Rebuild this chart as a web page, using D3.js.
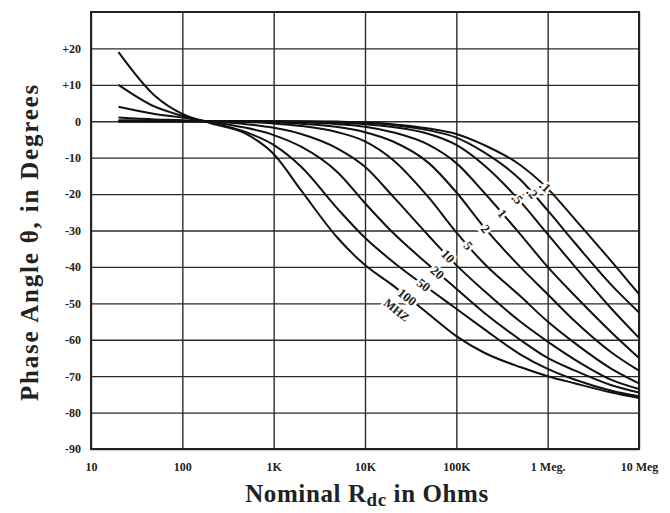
<!DOCTYPE html>
<html>
<head>
<meta charset="utf-8">
<script src="https://cdn.jsdelivr.net/npm/d3@7"></script>
<style>
  body { margin: 0; background: #fff; }
  svg { display: block; }
  .tick text { font-family: "Liberation Serif", serif; font-weight: bold; font-size: 12px; fill: #222; }
  .title { font-family: "Liberation Serif", serif; font-weight: bold; fill: #222; }
</style>
</head>
<body>
<div id="chart"></div>
<script>
// nominal resistance (ohms) where each curve is read
var resistances = [20, 50, 100, 200, 500, 1e3, 2e3, 5e3, 1e4, 2e4, 5e4, 1e5, 2e5, 5e5, 1e6, 2e6, 5e6, 1e7];

// phase angle (degrees) for each frequency
var phase_0_1MHz = [0, 0, 0, 0, 0, 0, 0, -0.1, -0.3, -0.8, -2, -3.5, -6.5, -12, -18.5, -27, -38.5, -47.5];
var phase_0_2MHz = [0, 0, 0, 0, 0, 0, -0.1, -0.3, -0.5, -1, -2.5, -4.5, -8.5, -16, -24.5, -33.5, -45, -52.5];
var phase_0_5MHz = [0, 0, 0, 0, 0, -0.1, -0.2, -0.4, -0.8, -1.6, -3.5, -6.5, -12, -22, -31, -40, -51.5, -59.5];
var phase_1MHz   = [0, 0, 0, 0, 0, -0.1, -0.3, -0.8, -1.5, -3, -6.5, -11.5, -19.5, -31, -40, -48, -58, -65];
var phase_2MHz   = [0, 0, 0, 0, -0.1, -0.3, -0.7, -1.6, -3, -5.5, -11.5, -19.5, -29, -40, -47.5, -55, -63.5, -68.5];
var phase_5MHz   = [0.3, 0.2, 0.1, 0, -0.2, -0.6, -1.3, -3, -5.5, -10.5, -21, -30.5, -39, -48, -55, -61, -68, -72];
var phase_10MHz  = [1, 0.5, 0.3, -0.1, -0.8, -1.8, -3.5, -7.5, -12.5, -20.5, -31.5, -39.5, -46.5, -55, -60.5, -65.5, -71, -73.5];
var phase_20MHz  = [4, 2, 1, -0.2, -1.8, -3.8, -7, -14, -22.5, -30.5, -39.5, -46, -52.5, -60, -65, -68.5, -72.5, -74.5];
var phase_50MHz  = [10, 4, 1.5, -0.3, -3, -6.5, -12.5, -24, -32, -38.5, -46, -51.5, -57, -64, -68, -71, -74, -75.5];
var phase_100MHz = [19, 7, 2, -0.5, -3.5, -9, -19, -32, -39.5, -45, -53, -59, -63.5, -67.5, -70, -72, -74.5, -76];

var curveLabels = [".1", ".2", ".5", "1", "2", "5", "10", "20", "50", "100"];
// resistance where each curve carries its label
var labelR = [940e3, 676e3, 466e3, 318e3, 209e3, 135e3, 81e3, 62e3, 44e3, 29e3];

var xTicks = [10, 100, 1e3, 1e4, 1e5, 1e6, 1e7];
var xTickLabels = ["10", "100", "1K", "10K", "100K", "1 Meg.", "10 Meg"];
var yTicks = [20, 10, 0, -10, -20, -30, -40, -50, -60, -70, -80, -90];
var yTickLabels = ["+20", "+10", "0", "-10", "-20", "-30", "-40", "-50", "-60", "-70", "-80", "-90"];

var series = [phase_0_1MHz, phase_0_2MHz, phase_0_5MHz, phase_1MHz, phase_2MHz,
              phase_5MHz, phase_10MHz, phase_20MHz, phase_50MHz, phase_100MHz];

var W = 670, H = 513;
var plotL = 91, plotR = 639, plotT = 12, plotB = 449;

var x = d3.scaleLog().domain([10, 1e7]).range([plotL, plotR]);
var y = d3.scaleLinear().domain([-90, 30]).range([plotB, plotT]);

var svg = d3.select('#chart').append('svg')
  .attr('width', W).attr('height', H);

// grid + tick labels
var gx = svg.append('g')
  .attr('transform', 'translate(0,' + plotB + ')')
  .call(d3.axisBottom(x).tickValues(xTicks)
    .tickFormat(function(d, i) { return xTickLabels[i]; })
    .tickSize(-(plotB - plotT)).tickPadding(13));
gx.select('.domain').remove();
gx.selectAll('.tick line').attr('stroke', '#2a2a2a').attr('stroke-width', 1.4);

var gy = svg.append('g')
  .attr('transform', 'translate(' + plotL + ',0)')
  .call(d3.axisLeft(y).tickValues(yTicks)
    .tickFormat(function(d, i) { return yTickLabels[i]; })
    .tickSize(-(plotR - plotL)).tickPadding(10));
gy.select('.domain').remove();
gy.selectAll('.tick line').attr('stroke', '#2a2a2a').attr('stroke-width', 1.4);

// frame
svg.append('rect')
  .attr('x', plotL).attr('y', plotT)
  .attr('width', plotR - plotL).attr('height', plotB - plotT)
  .attr('fill', 'none').attr('stroke', '#222').attr('stroke-width', 2);

// curves
var line = d3.line()
  .x(function(d) { return x(d[0]); })
  .y(function(d) { return y(d[1]); })
  .curve(d3.curveMonotoneX);

var plot = svg.append('g');
series.forEach(function(vals) {
  var pts = resistances.map(function(r, i) { return [r, vals[i]]; });
  plot.append('path')
    .attr('d', line(pts))
    .attr('fill', 'none')
    .attr('stroke', '#111')
    .attr('stroke-width', 2);
});

// phase at a resistance, linear in log R between read points
function phaseAt(vals, r) {
  var lr = Math.log10(r);
  for (var i = 0; i < resistances.length - 1; i++) {
    var a = Math.log10(resistances[i]), b = Math.log10(resistances[i + 1]);
    if (lr >= a && lr <= b) {
      return vals[i] + (vals[i + 1] - vals[i]) * (lr - a) / (b - a);
    }
  }
  return vals[vals.length - 1];
}

// inline curve labels, rotated along the curve
series.forEach(function(vals, i) {
  var r = labelR[i];
  var px = x(r), py = y(phaseAt(vals, r));
  var r2 = r * 1.15, r1 = r / 1.15;
  var ang = Math.atan2(y(phaseAt(vals, r2)) - y(phaseAt(vals, r1)), x(r2) - x(r1)) * 180 / Math.PI;
  svg.append('text')
    .attr('class', 'title')
    .attr('transform', 'translate(' + px + ',' + py + ') rotate(' + ang + ')')
    .attr('text-anchor', 'middle')
    .attr('dy', '0.35em')
    .style('font-size', '13px')
    .style('paint-order', 'stroke')
    .attr('stroke', '#fff')
    .attr('stroke-width', 5)
    .text(curveLabels[i]);
  if (i === series.length - 1) {
    svg.append('text')
      .attr('class', 'title')
      .attr('transform', 'translate(' + px + ',' + py + ') rotate(' + ang + ')')
      .attr('text-anchor', 'middle')
      .attr('dy', '1.75em')
      .style('font-size', '12px')
      .style('paint-order', 'stroke')
      .attr('stroke', '#fff')
      .attr('stroke-width', 4)
      .text('MHZ');
  }
});

// axis titles
svg.append('text')
  .attr('class', 'title')
  .attr('transform', 'translate(38,242) rotate(-90)')
  .attr('text-anchor', 'middle')
  .style('font-size', '25px')
  .style('letter-spacing', '1.8px')
  .text('Phase Angle \u03b8, in Degrees');

var xt = svg.append('text')
  .attr('class', 'title')
  .attr('x', 367).attr('y', 502)
  .attr('text-anchor', 'middle')
  .style('font-size', '25px')
  .style('letter-spacing', '0.6px');
xt.append('tspan').text('Nominal R');
xt.append('tspan').attr('dy', 4).style('font-size', '19px').text('dc');
xt.append('tspan').attr('dy', -4).text(' in Ohms');
</script>
</body>
</html>
